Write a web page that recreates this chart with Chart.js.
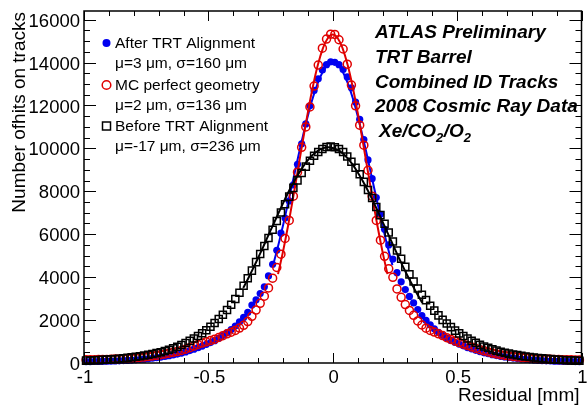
<!DOCTYPE html>
<html>
<head>
<meta charset="utf-8">
<script src="https://cdn.jsdelivr.net/npm/chart.js@4.4.1/dist/chart.umd.min.js"></script>
<style>
  body { margin: 0; background: #fff; }
  canvas { display: block; }
</style>
</head>
<body>
<canvas id="residualChart" width="588" height="406"></canvas>
<script>
// residual bin centres [mm], 120 bins over [-1, 1]
let residualBins = [
  -0.9917, -0.9750, -0.9583, -0.9417, -0.9250, -0.9083, -0.8917, -0.8750, -0.8583, -0.8417,
  -0.8250, -0.8083, -0.7917, -0.7750, -0.7583, -0.7417, -0.7250, -0.7083, -0.6917, -0.6750,
  -0.6583, -0.6417, -0.6250, -0.6083, -0.5917, -0.5750, -0.5583, -0.5417, -0.5250, -0.5083,
  -0.4917, -0.4750, -0.4583, -0.4417, -0.4250, -0.4083, -0.3917, -0.3750, -0.3583, -0.3417,
  -0.3250, -0.3083, -0.2917, -0.2750, -0.2583, -0.2417, -0.2250, -0.2083, -0.1917, -0.1750,
  -0.1583, -0.1417, -0.1250, -0.1083, -0.0917, -0.0750, -0.0583, -0.0417, -0.0250, -0.0083,
  0.0083, 0.0250, 0.0417, 0.0583, 0.0750, 0.0917, 0.1083, 0.1250, 0.1417, 0.1583,
  0.1750, 0.1917, 0.2083, 0.2250, 0.2417, 0.2583, 0.2750, 0.2917, 0.3083, 0.3250,
  0.3417, 0.3583, 0.3750, 0.3917, 0.4083, 0.4250, 0.4417, 0.4583, 0.4750, 0.4917,
  0.5083, 0.5250, 0.5417, 0.5583, 0.5750, 0.5917, 0.6083, 0.6250, 0.6417, 0.6583,
  0.6750, 0.6917, 0.7083, 0.7250, 0.7417, 0.7583, 0.7750, 0.7917, 0.8083, 0.8250,
  0.8417, 0.8583, 0.8750, 0.8917, 0.9083, 0.9250, 0.9417, 0.9583, 0.9750, 0.9917
];

// hits per bin, after TRT alignment
let afterAlignment = [
  64, 67, 70, 74, 78, 83, 88, 94, 101, 111,
  122, 133, 147, 163, 180, 198, 222, 248, 274, 305,
  338, 376, 418, 464, 518, 580, 646, 713, 787, 868,
  952, 1042, 1152, 1277, 1410, 1555, 1720, 1912, 2123, 2357,
  2700, 2942, 3234, 3550, 4055, 4600, 5250, 6050, 6750, 7550,
  8300, 9260, 10210, 11140, 11980, 12700, 13240, 13650, 13900, 14030,
  14010, 13900, 13670, 13330, 12820, 12150, 11350, 10410, 9460, 8590,
  7710, 6930, 6230, 5500, 4840, 4210, 3780, 3420, 3100, 2800,
  2490, 2210, 1990, 1780, 1590, 1430, 1290, 1160, 1050, 960,
  880, 800, 720, 660, 590, 530, 475, 430, 385, 345,
  310, 280, 252, 228, 204, 183, 165, 149, 133, 121,
  109, 101, 93, 87, 83, 79, 75, 70, 66, 62
];

// hits per bin, MC with perfect geometry
let mcPerfect = [
  150, 152, 155, 160, 164, 168, 175, 182, 191, 199,
  211, 224, 238, 256, 277, 298, 326, 355, 387, 420,
  454, 496, 534, 583, 643, 712, 787, 862, 930, 985,
  1043, 1112, 1188, 1272, 1362, 1437, 1520, 1628, 1758, 1932,
  2175, 2466, 2778, 3112, 3496, 3950, 4450, 5070, 5800, 6640,
  7770, 8890, 10050, 11000, 11930, 12900, 13880, 14670, 15090, 15320,
  15310, 15060, 14630, 13920, 12950, 11980, 11080, 10150, 8980, 7770,
  6640, 5720, 4970, 4390, 3990, 3450, 3060, 2720, 2450, 2220,
  1960, 1770, 1620, 1520, 1440, 1360, 1280, 1180, 1100, 1030,
  950, 880, 810, 750, 680, 620, 565, 515, 465, 425,
  390, 355, 328, 304, 283, 262, 245, 228, 214, 201,
  189, 181, 172, 164, 158, 154, 150, 146, 142, 140
];

// hits per bin, before TRT alignment
let beforeAlignment = [
  110, 117, 126, 134, 146, 158, 171, 185, 202, 223,
  244, 267, 292, 318, 348, 382, 419, 459, 505, 557,
  616, 683, 757, 838, 930, 1032, 1142, 1258, 1390, 1525,
  1690, 1865, 2050, 2250, 2472, 2715, 2980, 3275, 3595, 3945,
  4305, 4700, 5080, 5450, 5820, 6210, 6620, 7010, 7400, 7750,
  8160, 8510, 8850, 9150, 9420, 9660, 9830, 9970, 10060, 10090,
  10050, 9970, 9830, 9620, 9380, 9100, 8790, 8440, 8060, 7690,
  7270, 6890, 6490, 6080, 5660, 5240, 4860, 4480, 4130, 3800,
  3470, 3180, 2930, 2670, 2440, 2220, 2010, 1840, 1670, 1510,
  1380, 1260, 1140, 1030, 940, 850, 770, 710, 635, 575,
  525, 478, 436, 400, 366, 333, 304, 278, 254, 236,
  217, 198, 181, 166, 154, 141, 129, 121, 112, 104
];

// gaussian core fits, sampled on a finer grid
let fitBins = [
  -0.36, -0.34, -0.32, -0.30, -0.28, -0.26, -0.24, -0.22, -0.20, -0.18,
  -0.16, -0.14, -0.12, -0.10, -0.08, -0.06, -0.04, -0.02, 0.00, 0.02,
  0.04, 0.06, 0.08, 0.10, 0.12, 0.14, 0.16, 0.18, 0.20, 0.22,
  0.24, 0.26, 0.28, 0.30, 0.32, 0.34, 0.36
];
let afterFit = [
  null, null, null, null, null, null, 4550, 5440, 6410, 7440,
  8490, 9550, 10570, 11520, 12360, 13050, 13570, 13890, 14000, 13890,
  13570, 13050, 12360, 11520, 10570, 9550, 8490, 7440, 6410, 5440,
  4550, null, null, null, null, null, null
];
let mcFit = [
  null, null, null, null, null, null, null, 4140, 5190, 6370,
  7660, 9010, 10370, 11680, 12870, 13880, 14650, 15130, 15300, 15130,
  14650, 13880, 12870, 11680, 10370, 9010, 7660, 6370, 5190, 4140,
  null, null, null, null, null, null, null
];
let beforeFit = [
  3500, 3940, 4410, 4900, 5400, 5920, 6430, 6940, 7440, 7920,
  8360, 8770, 9140, 9450, 9700, 9890, 10000, 10050, 10020, 9930,
  9760, 9530, 9240, 8890, 8490, 8060, 7590, 7100, 6590, 6070,
  5560, 5050, 4550, 4080, 3630, 3200, 2810
];

let xTickLabels = [-1, -0.5, 0, 0.5, 1];
let yTickLabels = [0, 2000, 4000, 6000, 8000, 10000, 12000, 14000, 16000];

let legendRows = [
  { label: 'After TRT Alignment', stats: 'μ=3 μm, σ=160 μm' },
  { label: 'MC perfect geometry', stats: 'μ=2 μm, σ=136 μm' },
  { label: 'Before TRT Alignment', stats: 'μ=-17 μm, σ=236 μm' }
];
let atlasLines = ['ATLAS Preliminary', 'TRT Barrel', 'Combined ID Tracks', '2008 Cosmic Ray Data'];

const BLUE = '#0000f0';
const RED = '#e00000';
const FONT = '"Liberation Sans", Arial, Helvetica, sans-serif';

function points(xs, ys) {
  let out = [];
  for (let i = 0; i < xs.length; i++) {
    out.push({ x: xs[i], y: ys[i] });
  }
  return out;
}

// frame, inward ticks and all the text, ROOT style
const rootFrame = {
  id: 'rootFrame',
  afterDatasetsDraw(chart) {
    const ctx = chart.ctx;
    const a = chart.chartArea;
    const xs = chart.scales.x;
    const ys = chart.scales.y;

    ctx.save();
    ctx.strokeStyle = '#000';
    ctx.lineWidth = 1.5;
    ctx.strokeRect(a.left, a.top, a.right - a.left, a.bottom - a.top);

    ctx.lineWidth = 1;
    ctx.beginPath();
    for (let i = 0; i <= 20; i++) {
      let px = Math.round(xs.getPixelForValue(-1 + i * 0.1)) + 0.5;
      let len = (i % 5 === 0) ? 10 : 5;
      ctx.moveTo(px, a.bottom); ctx.lineTo(px, a.bottom - len);
      ctx.moveTo(px, a.top); ctx.lineTo(px, a.top + len);
    }
    for (let v = 0; v <= 16000; v += 500) {
      let py = Math.round(ys.getPixelForValue(v)) + 0.5;
      let len = (v % 2000 === 0) ? 12 : 6;
      ctx.moveTo(a.left, py); ctx.lineTo(a.left + len, py);
      ctx.moveTo(a.right, py); ctx.lineTo(a.right - len, py);
    }
    ctx.stroke();

    // tick labels
    ctx.fillStyle = '#000';
    ctx.font = '18.5px ' + FONT;
    ctx.textAlign = 'center';
    ctx.textBaseline = 'alphabetic';
    xTickLabels.forEach(v => {
      ctx.fillText(String(v), xs.getPixelForValue(v) + 1, a.bottom + 20);
    });
    ctx.textAlign = 'right';
    ctx.textBaseline = 'middle';
    yTickLabels.forEach(v => {
      ctx.fillText(String(v), a.left - 4, ys.getPixelForValue(v) + 2);
    });

    // axis titles
    ctx.font = '19px ' + FONT;
    ctx.textAlign = 'right';
    ctx.textBaseline = 'alphabetic';
    ctx.fillText('Residual [mm]', a.right - 2, 401);
    ctx.save();
    ctx.translate(25, a.top + 1);
    ctx.rotate(-Math.PI / 2);
    ctx.fillText('Number ofhits on tracks', 0, 0);
    ctx.restore();

    // legend
    ctx.font = '15.5px ' + FONT;
    ctx.textAlign = 'left';
    ctx.textBaseline = 'middle';
    let rowY = [43, 85, 126];
    legendRows.forEach((row, i) => {
      ctx.fillText(row.label, 115, rowY[i] + 1);
      ctx.fillText(row.stats, 115, rowY[i] + 21);
    });
    ctx.lineWidth = 1.5;
    ctx.fillStyle = BLUE;
    ctx.beginPath(); ctx.arc(106.5, rowY[0], 4, 0, Math.PI * 2); ctx.fill();
    ctx.strokeStyle = RED;
    ctx.beginPath(); ctx.arc(106.5, rowY[1], 4.3, 0, Math.PI * 2); ctx.stroke();
    ctx.strokeStyle = '#000';
    ctx.strokeRect(102.5, rowY[2] - 4, 8, 8);

    // experiment labels
    ctx.fillStyle = '#000';
    ctx.font = 'italic bold 19px ' + FONT;
    ctx.textBaseline = 'alphabetic';
    atlasLines.forEach((t, i) => {
      ctx.fillText(t, 375, 38 + i * 24.8);
    });
    let gx = 379, gy = 137;
    let parts = [['Xe/CO', false], ['2', true], ['/O', false], ['2', true]];
    parts.forEach(p => {
      ctx.font = p[1] ? 'italic bold 13px ' + FONT : 'italic bold 19px ' + FONT;
      ctx.fillText(p[0], gx, p[1] ? gy + 5 : gy);
      gx += ctx.measureText(p[0]).width + (p[1] ? 0.5 : 0);
    });
    ctx.restore();
  }
};

new Chart(document.getElementById('residualChart'), {
  type: 'scatter',
  data: {
    datasets: [
      {
        label: 'After TRT Alignment',
        data: points(residualBins, afterAlignment),
        pointStyle: 'circle',
        pointRadius: 3.6,
        backgroundColor: BLUE,
        borderColor: BLUE,
        borderWidth: 0,
        order: 6,
        clip: false
      },
      {
        label: 'After fit',
        data: points(fitBins, afterFit),
        showLine: true,
        pointRadius: 0,
        borderColor: BLUE,
        borderWidth: 2,
        tension: 0.4,
        spanGaps: false,
        order: 5
      },
      {
        label: 'MC perfect geometry',
        data: points(residualBins, mcPerfect),
        pointStyle: 'circle',
        pointRadius: 4,
        backgroundColor: 'rgba(0,0,0,0)',
        borderColor: RED,
        borderWidth: 1.5,
        order: 4,
        clip: false
      },
      {
        label: 'MC fit',
        data: points(fitBins, mcFit),
        showLine: true,
        pointRadius: 0,
        borderColor: RED,
        borderWidth: 2,
        tension: 0.4,
        spanGaps: false,
        order: 3
      },
      {
        label: 'Before TRT Alignment',
        data: points(residualBins, beforeAlignment),
        pointStyle: 'rect',
        pointRadius: 5,
        backgroundColor: 'rgba(0,0,0,0)',
        borderColor: '#000',
        borderWidth: 1.5,
        order: 2,
        clip: false
      },
      {
        label: 'Before fit',
        data: points(fitBins, beforeFit),
        showLine: true,
        pointRadius: 0,
        borderColor: '#000',
        borderWidth: 2,
        tension: 0.4,
        spanGaps: false,
        order: 1
      }
    ]
  },
  options: {
    responsive: false,
    devicePixelRatio: 1,
    animation: false,
    layout: { padding: { left: 84, right: 5, top: 11, bottom: 43 } },
    plugins: { legend: { display: false }, tooltip: { enabled: false } },
    scales: {
      x: { type: 'linear', min: -1, max: 1, display: false },
      y: { type: 'linear', min: 0, max: 16400, display: false }
    }
  },
  plugins: [rootFrame]
});
</script>
</body>
</html>
